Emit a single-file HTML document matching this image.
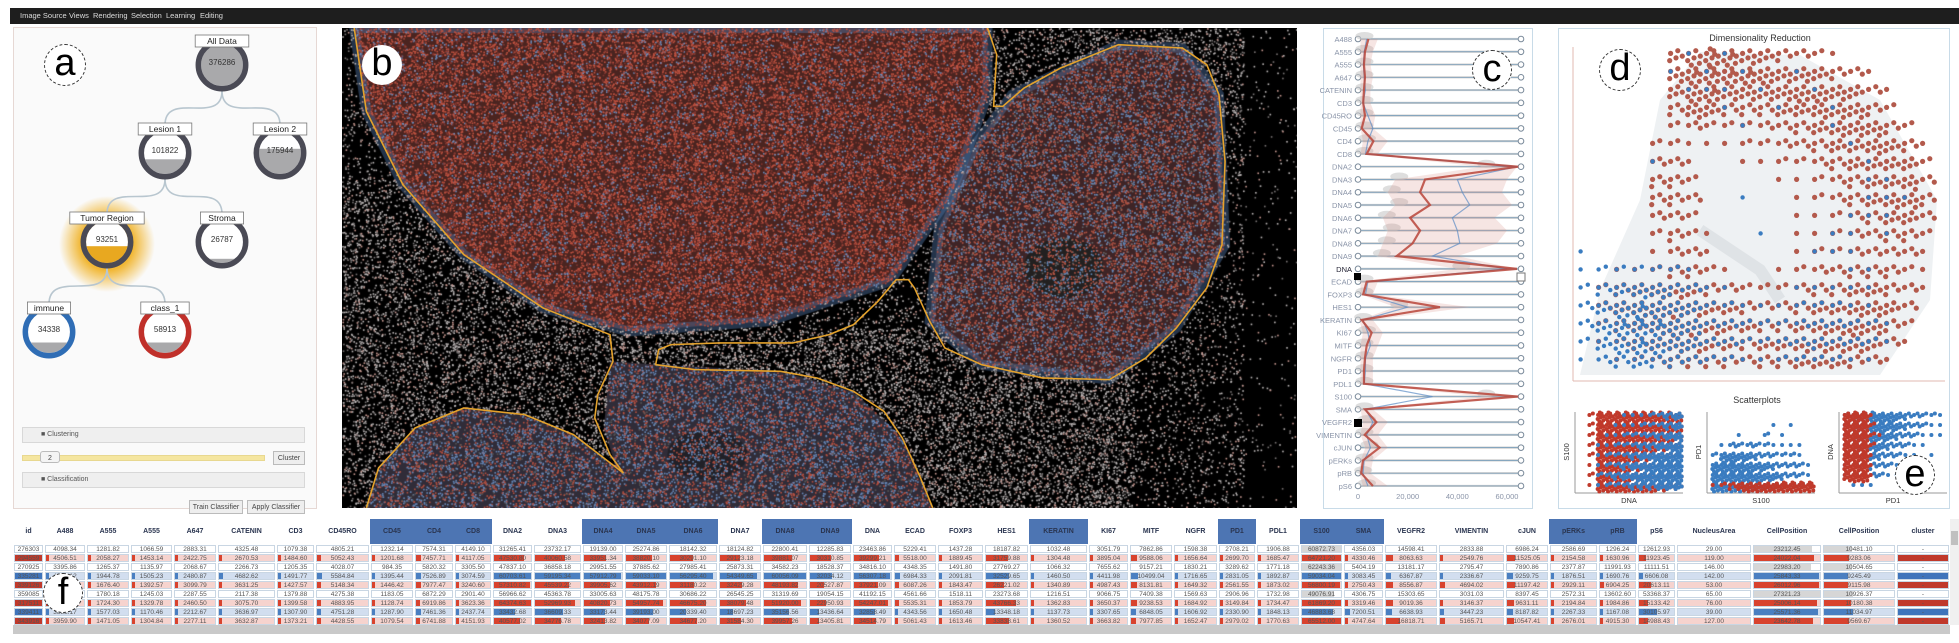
<!DOCTYPE html>
<html><head><meta charset="utf-8">
<style>
body{margin:0;width:1959px;height:643px;overflow:hidden;background:#fff;font-family:"Liberation Sans",sans-serif;position:relative}
.abs{position:absolute}
.menu{left:10px;top:8px;width:1949px;height:16px;background:#1e1e1e}
.menu span{position:absolute;top:3px;color:#ddd;font-size:7.5px}
.panel{position:absolute;border:1px solid #e6d8d4;background:#fafafa;box-sizing:border-box}
.bar{position:absolute;background:#efefef;border:1px solid #d8d8d8;box-sizing:border-box;font-size:7px;color:#555;padding:3px 0 0 18px}
.btn{position:absolute;background:#eee;border:1px solid #bbb;box-sizing:border-box;font-size:7px;color:#444;text-align:center;padding-top:3px}
.lbl{position:absolute;border-radius:50%;background:#fff;border:1px dashed #333;box-sizing:border-box;text-align:center;color:#000;font-size:38px;line-height:36px}
.th{position:absolute;top:519px;height:25px;font-size:7px;font-weight:bold;color:#2a3550;text-align:center;line-height:25px;box-sizing:border-box}
.td{position:absolute;height:8px;font-size:6.5px;line-height:8px;color:#555;text-align:center;box-sizing:border-box;border:1px solid #c9d6e3;overflow:hidden}
.td b{position:absolute;left:0;top:0;bottom:0}
.td i{position:relative;font-style:normal}
</style></head><body>
<div class="abs menu">
<span style="left:10px">Image Source</span>
<span style="left:59px">Views</span>
<span style="left:83px">Rendering</span>
<span style="left:121px">Selection</span>
<span style="left:156px">Learning</span>
<span style="left:190px">Editing</span>
</div>

<!-- Panel a -->
<div class="panel" style="left:13px;top:27px;width:304px;height:482px"></div>
<svg class="abs" style="left:0;top:0" width="320" height="420">
<defs><radialGradient id="glow"><stop offset="0.55" stop-color="#f0b020" stop-opacity="0.9"/><stop offset="1" stop-color="#f0b020" stop-opacity="0"/></radialGradient></defs>
<g id="tree"></g>
</svg>
<div class="lbl" style="left:44px;top:44px;width:42px;height:42px">a</div>
<div class="bar" style="left:22px;top:427px;width:283px;height:16px">■ Clustering</div>
<div class="abs" style="left:22px;top:455px;width:241px;height:4px;background:#f5e6a0;border:1px solid #e8d890"></div>
<div class="btn" style="left:40px;top:451px;width:20px;height:12px;border-radius:3px;background:#f4f4f4">2</div>
<div class="btn" style="left:273px;top:451px;width:32px;height:14px">Cluster</div>
<div class="bar" style="left:22px;top:472px;width:283px;height:16px">■ Classification</div>
<div class="btn" style="left:189px;top:500px;width:54px;height:14px">Train Classifier</div>
<div class="btn" style="left:247px;top:500px;width:58px;height:14px">Apply Classifier</div>

<!-- Panel b -->
<canvas id="img" class="abs" style="left:342px;top:28px" width="955" height="480"></canvas>
<svg class="abs" style="left:342px;top:28px" width="955" height="480">
<g transform="scale(0.609,0.3333)" fill="none" stroke="#e4a22c" stroke-width="1.6" vector-effect="non-scaling-stroke">
<path vector-effect="non-scaling-stroke" d="M20,0 L40,250 L100,470 L200,680 L330,840 L440,920 L445,1000 L420,1100 L415,1170 L440,1280 L462,1335 L380,1220 L300,1160 L200,1140 L120,1200 L60,1320 L40,1440"/>
<path vector-effect="non-scaling-stroke" d="M1060,0 L1075,80 L1070,235 L1085,235 L1120,180 L1180,120 L1275,50 L1380,60 L1420,110 L1440,200 L1450,400 L1445,650 L1420,780 L1370,900 L1320,990 L1260,1055 L1150,1050 L1050,1010 L990,960 L965,880 L940,780 L930,755 L910,755 L880,820 L840,890 L800,920 L740,945 L620,945 L540,950 L520,965 L515,1010 L580,1025 L720,1030 L780,1050 L840,1090 L890,1150 L920,1230 L950,1350 L970,1440"/>
</g></svg>
<div class="lbl" style="left:362px;top:45px;width:40px;height:40px;border:none">b</div>

<!-- Panel c -->
<div class="panel" style="left:1323px;top:28px;width:210px;height:481px;background:#fff;border-color:#c8dbe8"></div>
<svg class="abs" style="left:0;top:0" width="1959" height="643" id="pcsvg"></svg>
<div class="lbl" style="left:1472px;top:50px;width:40px;height:40px">c</div>

<!-- Panel d / e -->
<div class="panel" style="left:1558px;top:28px;width:392px;height:481px;background:#fff;border-color:#c8dbe8"></div>
<svg class="abs" style="left:0;top:0" width="1959" height="643" id="drsvg"></svg>
<div class="lbl" style="left:1599px;top:49px;width:42px;height:42px">d</div>
<div class="lbl" style="left:1895px;top:455px;width:40px;height:40px">e</div>

<!-- Table -->
<div id="table"></div>
<div class="abs" style="left:13px;top:625px;width:1937px;height:9px;background:#c9c9c9"></div>
<div class="abs" style="left:1950px;top:519px;width:9px;height:106px;background:#f0f0f0"><div style="position:absolute;left:1px;top:12px;width:7px;height:14px;background:#c0c0c0"></div></div>
<div class="lbl" style="left:43px;top:573px;width:40px;height:40px;background:#fff">f</div>

<script>
var NS="http://www.w3.org/2000/svg";
function mk(p,tag,attrs){var e=document.createElementNS(NS,tag);for(var k in attrs)e.setAttribute(k,attrs[k]);p.appendChild(e);return e;}

/* ---------- Tree ---------- */
var nodeNames=["All Data","Lesion 1","Lesion 2","Tumor Region","Stroma","immune","class_1"];
var nodeCounts=["376286","101822","175944","93251","26787","34338","58913"];
var nodeFill=[1.0,0.35,0.6,0.4,0.1,0.25,0.25];
var nodeParent=[-1,0,0,1,1,3,3];
var nodeX=[222,165,280,107,222,49,165],nodeY=[65,153,153,242,242,332,332];
var ringCol=["#4a4a55","#4a4a55","#4a4a55","#4a4a55","#4a4a55","#2f6db5","#c0302a"];
var tree=document.getElementById('tree');
mk(tree,'circle',{cx:107,cy:244,r:48,fill:'url(#glow)'});
for(var i=1;i<7;i++){var p=nodeParent[i];var x1=nodeX[p],y1=nodeY[p]+26,x2=nodeX[i],y2=nodeY[i]-28;
var e=mk(tree,'path',{d:'M'+x1+','+y1+' C'+x1+','+(y1+35)+' '+x2+','+(y2-35)+' '+x2+','+y2,fill:'none',stroke:'#b8c6cf','stroke-width':1.6});

}
for(var i=0;i<7;i++){var g=mk(tree,'g',{});


var cx=nodeX[i],cy=nodeY[i],ri=21;
mk(g,'circle',{cx:cx,cy:cy,r:ri,fill:'#fff'});
var cp=mk(g,'clipPath',{id:'cp'+i});mk(cp,'circle',{cx:cx,cy:cy,r:ri});
var h=nodeFill[i]*2*ri;
mk(g,'rect',{x:cx-ri,y:cy+ri-h,width:2*ri,height:h,fill:i==3?'#e8a820':'#a9a9ab','clip-path':'url(#cp'+i+')'});
mk(g,'circle',{cx:cx,cy:cy,r:ri+2.7,fill:'none',stroke:ringCol[i],'stroke-width':5.5});
var w=nodeNames[i].length*5.2+12;
mk(g,'rect',{x:cx-w/2,y:cy-30,width:w,height:12,fill:'#fff',stroke:'#777','stroke-width':0.8});
var t=mk(g,'text',{x:cx,y:cy-21,'text-anchor':'middle','font-size':8.5,fill:'#222'});t.textContent=nodeNames[i];
var t2=mk(g,'text',{x:cx,y:cy,'text-anchor':'middle','font-size':8,fill:'#333'});t2.textContent=nodeCounts[i];}

/* ---------- Tissue image (texture) ---------- */
(function(){
var c=document.getElementById('img'),ctx=c.getContext('2d');
var sx=0.609,sy=1/3;
function P(pts){var p=new Path2D();for(var k=0;k<pts.length;k++){var x=pts[k][0]*sx,y=pts[k][1]*sy;k?p.lineTo(x,y):p.moveTo(x,y);}p.closePath();return p;}
var R1=P([[20,0],[40,250],[100,470],[200,680],[330,840],[470,910],[700,880],[900,760],[1000,500],[1060,200],[1060,0]]);
var R2=P([[1100,200],[1275,50],[1380,60],[1440,200],[1450,650],[1370,900],[1260,1055],[1050,1010],[965,880],[980,600],[1040,350]]);
var R3=P([[60,1320],[120,1200],[200,1140],[300,1160],[380,1220],[462,1335],[470,1440],[40,1440]]);
var R4=P([[440,1000],[520,1010],[720,1030],[840,1090],[920,1230],[970,1440],[470,1440],[430,1200]]);
ctx.fillStyle='#000';ctx.fillRect(0,0,955,480);
ctx.fillStyle='#4a2420';ctx.fill(R1);ctx.fillStyle='#3e2426';ctx.fill(R2);
ctx.fillStyle='#302c38';ctx.fill(R3);ctx.fill(R4);
ctx.lineWidth=10;ctx.strokeStyle='rgba(80,115,165,0.45)';ctx.stroke(R1);ctx.stroke(R2);
ctx.fillStyle='#222020';ctx.beginPath();ctx.ellipse(1185*sx,720*sy,40,30,0,0,7);ctx.fill();
ctx.beginPath();ctx.ellipse(600*sx,1280*sy,40,25,0,0,7);ctx.fillStyle='rgba(30,30,35,0.8)';ctx.fill();
var s=12345;function rnd(){s=(s*16807)%2147483647;return s/2147483647;}
for(var n=0;n<110000;n++){var x=rnd()*955,y=rnd()*480,zx=x/sx,zy=y/sy,u=rnd(),col=null;
if(ctx.isPointInPath(R1,x,y)){col=u<.45?'#bf5240':u<.64?'#803630':u<.78?'#6a8cbc':null;}
else if(ctx.isPointInPath(R2,x,y)){col=u<.33?'#b25444':u<.57?'#6589b8':u<.65?'#666':null;}
else if(ctx.isPointInPath(R3,x,y)||ctx.isPointInPath(R4,x,y)){col=u<.27?'#b55040':u<.57?'#6688b8':u<.65?'#555':null;}
else{var pr=0.04;
if(zx<1480){pr=0.2;if(zx>430&&zx<1300&&zy>900)pr=0.5;if(zx<450&&zy>450)pr=0.42;if(zx>1060&&zy<260)pr=0.38;}
if(u<pr){var v=rnd();col=v<.5?'#bdb8b8':v<.8?'#7a7575':'#c89890';}}
if(col){ctx.fillStyle=col;ctx.fillRect(x,y,1.6,1.6);}}
})();

/* ---------- Parallel coordinates ---------- */
var pcAxes=["A488","A555","A555","A647","CATENIN","CD3","CD45RO","CD45","CD4","CD8","DNA2","DNA3","DNA4","DNA5","DNA6","DNA7","DNA8","DNA9","DNA","ECAD","FOXP3","HES1","KERATIN","KI67","MITF","NGFR","PD1","PDL1","S100","SMA","VEGFR2","VIMENTIN","cJUN","pERKs","pRB","pS6"];
var redMean=[4.2,2.8,2.4,2.8,2.4,2.1,2.8,1.5,6.2,3.5,64.5,27,25,29,21,25,22,15.6,64,3.5,2.1,33,1.5,5.5,3.5,2.8,2.4,2.4,64.5,2.8,7.4,2.7,8.7,2.0,1.3,6.0];
var blueMean=[3.5,2.5,2.2,2.5,3,2,4,6,4,3,64,40,42,45,38,40,41,30,60,4,3,20,2,4,5,3,3,2.5,30,3,6,3.5,5,2.5,2,4];
var redLow=[1,1,1,1,1,1,1,1,2,1,50,15,12,15,10,12,10,8,40,1,1,15,0.5,2,1,1,1,1,50,1,2,1,3,1,0.5,2];
var redHigh=[8,6,5,6,5,5,7,6,12,8,64,60,58,62,55,60,56,40,64,8,6,45,6,10,8,6,6,6,64,6,12,8,12,6,5,12];
var pcTicks=[0,20000,40000,60000];
var pcTickLabels=["0","20,000","40,000","60,000"];
(function(){
var sv=document.getElementById('pcsvg');
function px(v){return 1358+v*2.483;} function py(i){return 39+i*12.77;}
for(var i=0;i<pcAxes.length;i++){var y=py(i);
var g=mk(sv,'g',{});


mk(g,'line',{x1:1358,x2:1521,y1:y,y2:y,stroke:'#cfcfcf','stroke-width':2.2});
mk(g,'line',{x1:1358,x2:1521,y1:y,y2:y,stroke:'#6f98b8','stroke-width':0.7});
mk(g,'circle',{cx:1358,cy:y,r:2.8,fill:'#fff',stroke:'#7a8a9a'});
mk(g,'circle',{cx:1521,cy:y,r:2.8,fill:'#fff',stroke:'#7a8a9a'});
mk(g,'ellipse',{cx:px(redLow[i])+4,cy:y-3,rx:9,ry:4,fill:'#c8c8c8',opacity:0.6});
var t=mk(g,'text',{x:1352,y:y+3,'text-anchor':'end','font-size':7.5,fill:i==18?'#223':'#8a94a8'});t.textContent=pcAxes[i];}
var d='';
for(var i=0;i<pcAxes.length;i++)d+=(i?'L':'M')+px(redHigh[i])+','+py(i);
for(var i=pcAxes.length-1;i>=0;i--)d+='L'+px(redLow[i])+','+py(i);
var band=mk(sv,'path',{d:d+'Z',fill:'#d88a80',opacity:0.22});


var bl='';for(var i=0;i<pcAxes.length;i++)bl+=(i?'L':'M')+px(blueMean[i])+','+py(i);
var lb=mk(sv,'path',{d:bl,fill:'none',stroke:'#5b8cc4','stroke-width':1.2,opacity:0.7});


var rl='';for(var i=0;i<pcAxes.length;i++)rl+=(i?'L':'M')+px(redMean[i])+','+py(i);
var lr=mk(sv,'path',{d:rl,fill:'none',stroke:'#b8453a','stroke-width':2.2,opacity:0.85});


mk(sv,'rect',{x:1354,y:273,width:7,height:7,fill:'#000'});
mk(sv,'rect',{x:1517,y:273,width:8,height:8,fill:'#fff',stroke:'#777'});
mk(sv,'rect',{x:1354,y:419,width:8,height:8,fill:'#000'});
for(var k=0;k<pcTicks.length;k++){var t=mk(sv,'text',{x:px(pcTicks[k]/1000),y:499,'text-anchor':'middle','font-size':7.5,fill:'#8a94a8'});t.textContent=pcTickLabels[k];

}
})();

/* ---------- Dimensionality reduction (density grid) ---------- */
var drRed=["00000579865432100000","00000689887665431000","00000578666677653100","00000465444556664200","00000232223345666420","00002211122334556541","00003310011223455552","00004420000112345563","00004430000012345664","00003320000011234553","00002421000011233442","00001331000012233331","00112442100123344421","02456654322234455431","03567765543345566530","02456776554456676420","01345665545566665310","00123444434455543100"];
var drBlue=["00000010100000000000","00000101010010000000","00000011101001000000","00000000100100100000","00000000010000100000","00000000000000010000","00001000000000001000","00000000000000001100","00000000010000001110","00000000000000011100","00000000001000110100","10000000000001110000","12222210000000011000","24566431100011111000","35787652211122211000","36898763322233322100","25787653322334332100","13454432211222211000"];
var s1Red=["029999999998","029999999997","029999998876","029999887655","029998765443","019987654332","029987655443","019999877654"];
var s1Blue=["000001112345","000011122345","000112233456","001122344567","001223456778","001234567889","002345677888","001223444555"];
var s2Red=["000000000000","000000000000","000000000000","000000000000","000000000000","000000000000","000000000000","124677889999"];
var s2Blue=["000000000000","000000010100","000100201000","013232211110","267654322210","899876543321","999887654321","999877654320"];
var s3Red=["899100000000","999200000000","999210000000","999200000000","899100000000","799100000000","689100000000","000000000000"];
var s3Blue=["389987543221","279876543211","178765432111","166654321100","145543211010","134432110000","123321100000","011100000000"];
var jit=[[.2,.3],[.6,.15],[.85,.45],[.15,.7],[.5,.55],[.8,.85],[.35,.95],[.65,.35],[.4,.05]];
function drawGrid(sv,grid,x0,y0,cw,ch,col,r,name){
var g=mk(sv,'g',{fill:col});


for(var rr=0;rr<grid.length;rr++)for(var cc=0;cc<grid[rr].length;cc++){var n=+grid[rr][cc];
for(var k=0;k<n;k++)mk(g,'circle',{cx:x0+(cc+jit[k][0])*cw,cy:y0+(rr+jit[k][1])*ch,r:r});}}
(function(){
var sv=document.getElementById('drsvg');
var t=mk(sv,'text',{x:1760,y:41,'text-anchor':'middle','font-size':9,fill:'#333'});t.textContent='Dimensionality Reduction';


mk(sv,'polygon',{points:'1600,290 1640,200 1660,100 1700,52 1800,55 1880,100 1937,200 1930,300 1880,375 1580,375',fill:'#eef1f3'});
mk(sv,'path',{d:'M1700,230 L1760,270 L1780,300',stroke:'#dfe3e6','stroke-width':12,fill:'none'});
mk(sv,'line',{x1:1573,y1:47,x2:1573,y2:381,stroke:'#e2b8b0'});
mk(sv,'line',{x1:1573,y1:381,x2:1945,y2:381,stroke:'#e2b8b0'});
drawGrid(sv,drRed,1577,48,18,18,'#b35a4c',2.6,'dr-red-points');
drawGrid(sv,drBlue,1577,48,18,18,'#3a7cc0',2.2,'dr-blue-points');
var t2=mk(sv,'text',{x:1757,y:403,'text-anchor':'middle','font-size':9,fill:'#333'});t2.textContent='Scatterplots';


var plots=[{x:1579,xl:'DNA',yl:'S100',a:s1Red,b:s1Blue,redFirst:true},{x:1711,xl:'S100',yl:'PD1',a:s2Red,b:s2Blue,redFirst:false},{x:1843,xl:'PD1',yl:'DNA',a:s3Red,b:s3Blue,redFirst:false}];
for(var p=0;p<3;p++){var P=plots[p];
mk(sv,'line',{x1:P.x-4,y1:412,x2:P.x-4,y2:493,stroke:'#999'});
mk(sv,'line',{x1:P.x-4,y1:493,x2:P.x+104,y2:493,stroke:'#999'});
if(P.redFirst){drawGrid(sv,P.a,P.x,412,104/12,10,'#c0392b',2,'scatter-red');drawGrid(sv,P.b,P.x,412,104/12,10,'#3a7cc0',2,'scatter-blue');}
else{drawGrid(sv,P.b,P.x,412,104/12,10,'#3a7cc0',2,'scatter-blue');drawGrid(sv,P.a,P.x,412,104/12,10,'#c0392b',2,'scatter-red');}
var xl=mk(sv,'text',{x:P.x+50,y:503,'text-anchor':'middle','font-size':7.5,fill:'#333'});xl.textContent=P.xl;
var yl=mk(sv,'text',{x:P.x-10,y:452,'text-anchor':'middle','font-size':7.5,fill:'#333',transform:'rotate(-90 '+(P.x-10)+' 452)'});yl.textContent=P.yl;}
})();

/* ---------- Table ---------- */
var cols=["id","A488","A555","A555","A647","CATENIN","CD3","CD45RO","CD45","CD4","CD8","DNA2","DNA3","DNA4","DNA5","DNA6","DNA7","DNA8","DNA9","DNA","ECAD","FOXP3","HES1","KERATIN","KI67","MITF","NGFR","PD1","PDL1","S100","SMA","VEGFR2","VIMENTIN","cJUN","pERKs","pRB","pS6","NucleusArea","CellPosition","CellPosition","cluster"];
var selCols=[8,9,10,13,14,15,17,18,23,27,29,30,34,35];
var rowType=["w","r","w","b","r","w","r","b","r"];
var rows=[
"276303,4098.34,1281.82,1066.59,2883.31,4325.48,1079.38,4805.21,1232.14,7574.31,4149.10,31265.41,23732.17,19139.00,25274.86,18142.32,18124.82,22800.41,12285.83,23463.86,5229.41,1437.28,18187.82,1032.48,3051.79,7862.86,1598.38,2708.21,1906.88,60872.73,4356.03,14598.41,2833.88,6986.24,2586.69,1296.24,12612.93,29.00,23212.45,10481.10,-",
"294559,4506.51,2058.27,1453.14,2422.75,2670.53,1484.60,5052.43,1201.68,7457.71,4117.05,47530.80,40060.58,33951.34,38820.10,30291.10,29123.18,39881.07,30310.85,39299.21,5518.00,1889.45,31759.88,1304.48,3895.04,9588.06,1656.64,2699.70,1685.47,64721.20,4330.46,8063.63,2549.76,11525.05,2154.58,1630.96,11923.45,119.00,24022.04,9283.06,-",
"270925,3395.86,1265.37,1135.97,2068.67,2266.73,1205.35,4028.07,984.35,5820.32,3305.50,47837.10,36858.18,29951.55,37885.62,27985.41,25873.31,34582.23,18528.37,34816.10,4348.35,1491.80,27769.27,1066.32,7655.62,9157.21,1830.21,3289.62,1771.18,62243.36,5404.19,13181.17,2795.47,7890.86,2377.87,11991.93,11111.51,146.00,22983.20,10504.65,-",
"335281,4370.12,1944.78,1505.23,2480.87,4682.62,1491.77,5584.84,1395.44,7526.89,3074.59,60703.61,59195.34,57912.79,59033.10,56295.40,54349.65,60056.09,32034.12,56307.18,6984.33,2091.81,32529.65,1460.50,4411.98,10499.04,1716.65,2831.05,1892.87,59034.04,3083.45,6367.87,2336.67,9259.75,1876.51,1690.76,6606.08,142.00,25843.33,9245.49,-",
"339126,4210.35,1676.40,1392.57,3099.79,3631.25,1427.57,5148.34,1446.42,7977.47,3240.60,57310.82,45539.22,39905.62,43912.19,31180.22,32429.28,48193.82,20527.87,37921.09,6087.26,1843.47,26221.02,1340.89,4987.43,8131.81,1649.32,2561.55,1873.02,56800.19,2750.43,8556.87,4694.02,11197.42,2929.11,6904.25,20613.11,53.00,26012.96,9115.98,-",
"359085,3921.44,1780.18,1245.03,2287.55,2117.38,1379.88,4275.38,1183.05,6872.29,2901.40,56966.62,45363.78,33005.63,48175.78,30686.22,26545.25,31319.69,19054.15,41192.15,4561.66,1518.11,23273.68,1216.51,9066.75,7409.38,1569.63,2906.96,1732.98,49076.91,4306.75,15303.65,3031.03,8397.45,2572.31,13602.60,53368.37,65.00,27321.23,10926.37,-",
"317511,4467.20,1724.30,1329.78,2460.50,3075.70,1399.58,4883.95,1128.74,6919.86,3623.36,64374.63,52969.93,40820.73,54957.74,46675.20,38079.48,51920.00,22950.93,54247.01,5535.31,1853.79,43766.33,1362.83,3650.37,9238.53,1684.92,3149.84,1734.47,61869.20,3319.46,9019.36,3146.37,9631.11,2194.84,1984.86,15133.42,76.00,25006.14,10180.38,-",
"339411,3888.17,1577.03,1170.46,2212.67,3636.97,1307.90,4751.28,1287.90,7461.36,2437.74,33432.68,36609.33,33173.44,39193.00,20339.40,18697.23,35156.56,13436.64,32858.49,4343.56,1650.48,13348.18,1137.73,3307.65,6848.05,1606.92,2330.90,1848.13,46883.68,7200.51,6638.93,3447.23,8187.82,2267.33,1167.08,30105.97,39.00,25571.36,11034.97,-",
"343916,3959.90,1471.05,1304.84,2277.11,3632.87,1373.21,4428.55,1079.54,6741.88,4151.93,40577.02,34776.78,32413.82,34077.09,34677.20,31584.30,39957.26,13405.81,34514.79,5061.43,1613.46,33838.61,1360.52,3663.82,7977.85,1652.47,2979.02,1770.63,65512.00,4747.64,16818.71,5165.71,10547.41,2676.01,4915.30,14988.43,127.00,23642.78,9569.67,-"];
var colEdges=[13,44,86,130,173,217,276,315,370,414,454,492,533,582,624,668,718,762,808,852,893,937,984,1029,1088,1129,1173,1218,1256,1300,1343,1384,1438,1505,1549,1598,1637,1676,1752,1822,1896,1950];
(function(){
var tb=document.getElementById('table');
for(var c=0;c<cols.length;c++){var h=document.createElement('div');h.className='th';
var x=colEdges[c],w=colEdges[c+1]-x;h.style.left=x+'px';h.style.width=w+'px';
if(selCols.indexOf(c)>=0)h.style.background='#4d75b3';
h.textContent=cols[c];


tb.appendChild(h);}
var body=document.createElement('div');body.className='abs';
body.style.cssText='left:0;top:545px;width:1959px;height:80px;overflow:hidden';


tb.appendChild(body);
for(var r=0;r<rows.length;r++){var vals=rows[r].split(','),tp=rowType[r];
for(var c=0;c<cols.length;c++){var d=document.createElement('div');d.className='td';
var x=colEdges[c],w=colEdges[c+1]-x;
d.style.left=(x+1)+'px';d.style.width=(w-2)+'px';d.style.top=(r*9)+'px';
var bg=tp=='r'?'#f6d3ce':tp=='b'?'#d2deef':'#fff';d.style.background=bg;
var v=parseFloat(vals[c])||0,bw=0,bc=tp=='r'?'#d8432e':'#4a7fc1';
if(c==0||c==40){bw=tp=='w'?0:w;bc=tp=='r'?'#c0392b':'#3f74bb';}
else if(c==38||c==39){bw=v/28000*w;if(tp=='w')bc='#d6d6d6';}
else if(c==37){bw=0;}
else{bw=Math.max(3,v/65000*w);if(tp=='w'){bw=(c==29)?v/65000*w:0;bc='#d6d6d6';}}
if(bw>0){var b=document.createElement('b');b.style.width=Math.min(bw,w-2)+'px';b.style.background=bc;d.appendChild(b);}
var s=document.createElement('i');s.textContent=vals[c];d.appendChild(s);


body.appendChild(d);}}
})();
</script>
</body></html>
